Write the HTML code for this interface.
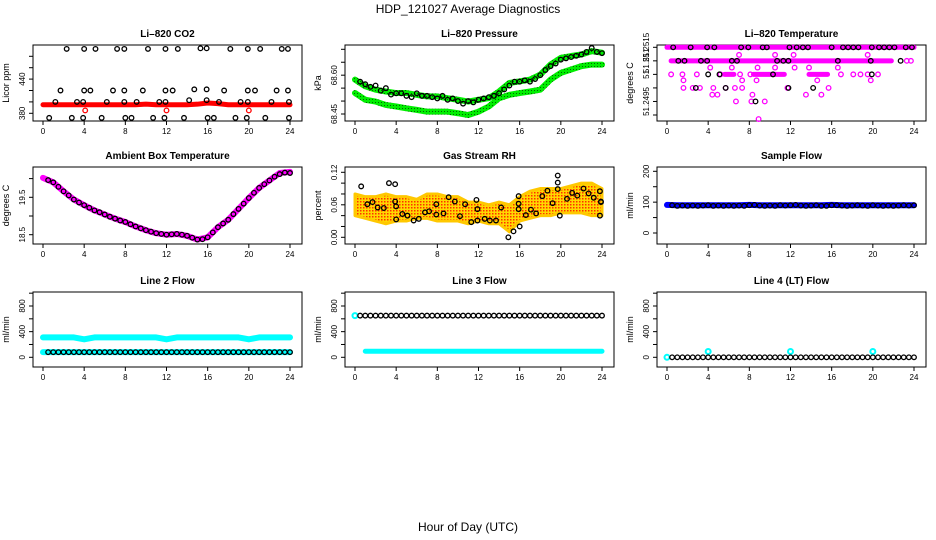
<!DOCTYPE html>
<html><head><meta charset="utf-8"><style>
body{margin:0;background:#fff}
svg{display:block;font-family:"Liberation Sans",sans-serif}
</style></head><body>
<svg id="chart" width="936" height="540" viewBox="0 0 936 540">
<defs><pattern id="rhpat" width="3" height="3" patternUnits="userSpaceOnUse"><rect width="3" height="3" fill="#ffd700"/><rect width="1.5" height="1.5" fill="#ff3000"/></pattern>
<pattern id="grpat" width="3" height="3" patternUnits="userSpaceOnUse"><rect width="3" height="3" fill="#00ee00"/><rect width="1" height="1" fill="#006600"/></pattern></defs>
<text x="468" y="13" text-anchor="middle" font-size="12">HDP_121027  Average Diagnostics</text>
<text x="468" y="531" text-anchor="middle" font-size="12">Hour of Day (UTC)</text>
</svg>
<script>
// ---------- data ----------
const xTicks=[0,4,8,12,16,20,24];
const halfHours=[0.5,1,1.5,2,2.5,3,3.5,4,4.5,5,5.5,6,6.5,7,7.5,8,8.5,9,9.5,10,10.5,11,11.5,12,12.5,13,13.5,14,14.5,15,15.5,16,16.5,17,17.5,18,18.5,19,19.5,20,20.5,21,21.5,22,22.5,23,23.5,24];
const hours=[0,1,2,3,4,5,6,7,8,9,10,11,12,13,14,15,16,17,18,19,20,21,22,23,24];
// CO2
const co2Band=[395,395,395,395,395,395,395,395,395,395,396,395,395,395,395,396,398,397,395,395,395,395,395,395,395];
const co2RedH=[4.1,12.0,20.0];
const co2RedV=[385,385,385];
const co2BlackH=[2.3,4.0,5.1,7.2,7.9,10.2,11.9,13.1,15.3,15.9,18.2,19.9,21.1,23.2,23.8,1.7,4.0,4.6,6.8,7.9,9.7,11.9,12.6,14.7,15.9,17.6,19.9,20.6,22.7,23.8,1.2,3.3,3.9,6.2,7.9,9.1,11.3,11.9,14.2,15.9,17.1,19.2,19.9,22.2,23.9,0.6,2.8,3.9,5.7,8.0,8.6,10.7,11.8,13.7,16.0,16.6,18.7,19.8,21.6,23.9];
const co2BlackV=[493,493,493,493,493,493,493,493,494,494,493,493,493,493,493,420,420,420,420,420,420,420,420,422,422,420,420,420,420,420,400,400,400,400,400,400,400,400,403,403,400,400,400,400,400,372,372,372,372,372,372,372,372,372,372,372,372,372,372,372];
// Pressure
const presUpper=[68.583,68.557,68.544,68.537,68.531,68.531,68.524,68.518,68.518,68.511,68.505,68.498,68.505,68.511,68.537,68.570,68.576,68.583,68.602,68.641,68.667,68.674,68.680,68.693,68.687];
const presLower=[68.531,68.505,68.498,68.485,68.479,68.472,68.466,68.459,68.459,68.459,68.453,68.446,68.459,68.479,68.511,68.524,68.531,68.537,68.544,68.583,68.609,68.622,68.635,68.641,68.641];
const presBlack=[68.575,68.565,68.555,68.56,68.54,68.55,68.525,68.53,68.53,68.52,68.515,68.53,68.52,68.52,68.515,68.51,68.52,68.505,68.51,68.50,68.49,68.50,68.495,68.505,68.51,68.515,68.52,68.53,68.545,68.56,68.575,68.575,68.58,68.575,68.585,68.60,68.62,68.635,68.645,68.66,68.665,68.67,68.675,68.68,68.69,68.705,68.69,68.685];
// Li-820 temperature
const tempSegStart=[0,0.4,5.6,8.4,13.8];
const tempSegEnd=[24,21.8,6.5,11.4,15.6];
const tempSegV=[51.2515,51.251,51.2505,51.2505,51.2505];
const tempPinkH=[23.3,23.7,0.4,1.5,2.9,5.2,7.1,8.1,16.9,18.1,18.8,19.5,20.5,4.2,6.3,8.8,10.5,12.4,13.8,16.6,7.0,10.5,12.3,19.5,1.6,2.5,3.2,4.5,5.7,6.6,7.3,11.7,15.7,1.6,7.3,8.7,14.6,19.8,4.4,4.9,8.3,13.5,15.0,6.7,8.2,9.5,8.9];
const tempPinkV=[51.251,51.251,51.2505,51.2505,51.2505,51.2505,51.2505,51.2505,51.2505,51.2505,51.2505,51.2505,51.2505,51.25075,51.25075,51.25075,51.25075,51.25075,51.25075,51.25075,51.25122,51.25122,51.25122,51.25122,51.25,51.25,51.25,51.25,51.25,51.25,51.25,51.25,51.25,51.25028,51.25028,51.25028,51.25028,51.25028,51.24975,51.24975,51.24975,51.24975,51.24975,51.2495,51.2495,51.2495,51.24885];
const tempBlackH=[0.6,2.3,3.9,4.6,7.2,7.9,9.3,9.7,11.9,12.6,13.2,13.7,16.0,17.1,17.6,18.1,18.6,19.9,20.6,21.1,21.6,22.1,23.2,23.8,1.1,1.7,3.3,3.9,6.3,6.8,10.7,11.3,11.8,16.6,19.8,22.7,4.0,5.1,10.3,19.9,2.8,5.7,11.8,14.2,8.6];
const tempBlackV=[51.2515,51.2515,51.2515,51.2515,51.2515,51.2515,51.2515,51.2515,51.2515,51.2515,51.2515,51.2515,51.2515,51.2515,51.2515,51.2515,51.2515,51.2515,51.2515,51.2515,51.2515,51.2515,51.2515,51.2515,51.251,51.251,51.251,51.251,51.251,51.251,51.251,51.251,51.251,51.251,51.251,51.251,51.2505,51.2505,51.2505,51.2505,51.25,51.25,51.25,51.25,51.2495];
// Ambient
const ambBand=[20.02,19.90,19.66,19.44,19.29,19.15,19.04,18.93,18.84,18.72,18.62,18.54,18.50,18.52,18.47,18.37,18.43,18.70,18.90,19.19,19.48,19.75,19.95,20.15,20.18];
const ambBlack=[19.96,19.90,19.78,19.66,19.55,19.44,19.36,19.29,19.22,19.15,19.10,19.04,18.98,18.93,18.88,18.84,18.78,18.72,18.67,18.62,18.58,18.54,18.52,18.50,18.51,18.52,18.50,18.47,18.42,18.37,18.38,18.43,18.56,18.70,18.80,18.90,19.05,19.19,19.33,19.48,19.62,19.75,19.85,19.95,20.05,20.12,20.16,20.15];
// RH
const rhUpper=[0.08,0.075,0.075,0.08,0.075,0.075,0.07,0.08,0.08,0.075,0.075,0.065,0.065,0.06,0.065,0.06,0.075,0.085,0.09,0.09,0.09,0.095,0.1,0.1,0.09];
const rhLower=[0.04,0.035,0.03,0.025,0.03,0.03,0.035,0.035,0.03,0.03,0.03,0.025,0.03,0.025,0.025,0.01,0.03,0.035,0.04,0.04,0.045,0.045,0.045,0.04,0.04];
const rhBlackH=[0.6,1.2,1.7,2.2,2.8,3.3,3.9,3.9,4.0,4.0,4.6,5.1,5.7,6.2,6.8,7.2,7.9,7.9,8.6,9.1,9.7,10.2,10.7,11.3,11.8,11.9,11.9,12.6,13.1,13.7,14.2,14.9,15.4,15.9,15.9,15.9,16.0,16.6,17.1,17.6,18.2,18.7,19.2,19.7,19.7,19.7,19.9,20.6,21.1,21.6,22.2,22.7,23.2,23.8,23.8,23.9,23.9];
const rhBlackV=[0.094,0.061,0.065,0.055,0.054,0.10,0.098,0.066,0.057,0.033,0.043,0.04,0.031,0.034,0.046,0.048,0.061,0.042,0.044,0.074,0.066,0.039,0.061,0.028,0.069,0.052,0.031,0.034,0.031,0.031,0.055,0.0,0.011,0.076,0.062,0.052,0.02,0.041,0.051,0.044,0.076,0.086,0.063,0.114,0.101,0.089,0.04,0.071,0.082,0.077,0.09,0.081,0.073,0.085,0.04,0.066,0.065];
// Flows
const sampBand=[91,90,90,90,90,90,90,90,91,90,90,90,90,90,90,90,91,90,90,90,90,90,90,90,90];
const sampBlack=[90,88,89,88,89,88,89,90,88,89,88,89,88,89,88,90,91,89,88,89,88,90,89,90,91,89,88,89,90,88,88,90,90,89,88,89,90,89,88,90,89,88,89,88,89,90,89,90];
const l2CyanHigh=[310,310,310,310,280,310,310,310,310,310,310,310,280,310,310,310,310,310,310,310,280,310,310,310,310];
const l2CyanLow=[80,80,80,80,80,80,80,80,80,80,80,80,80,80,80,80,80,80,80,80,80,80,80,80,80];
const l2Black=[80,80,80,80,80,80,80,80,80,80,80,80,80,80,80,80,80,80,80,80,80,80,80,80,80,80,80,80,80,80,80,80,80,80,80,80,80,80,80,80,80,80,80,80,80,80,80,80];
const l3Black=[650,650,650,650,650,650,650,650,650,650,650,650,650,650,650,650,650,650,650,650,650,650,650,650,650,650,650,650,650,650,650,650,650,650,650,650,650,650,650,650,650,650,650,650,650,650,650,650];
const l3Cyan=[650,95,95,95,95,95,95,95,95,95,95,95,95,95,95,95,95,95,95,95,95,95,95,95,95];
const l4Black=[0,0,0,0,0,0,0,0,0,0,0,0,0,0,0,0,0,0,0,0,0,0,0,0,0,0,0,0,0,0,0,0,0,0,0,0,0,0,0,0,0,0,0,0,0,0,0,0];
const l4CyanH=[0,4,12,20];
const l4CyanV=[0,90,90,90];

// ---------- drawing ----------
const svg=document.getElementById('chart');
const NS='http://www.w3.org/2000/svg';
function mk(tag,attrs,parent){const e=document.createElementNS(NS,tag);for(const k in attrs)e.setAttribute(k,attrs[k]);(parent||svg).appendChild(e);return e;}
function panel(x0,x1,y0,y1,va,ya,vb,yb){return {x0,x1,y0,y1,xs:h=>x0+10+h*(x1-x0-22)/24,ys:v=>ya+(v-va)*(yb-ya)/(vb-va)};}
const P={
 co2:panel(33,302,45,121,380,113.3,480,56.3),
 pres:panel(345,614,45,121,68.45,114,68.70,49.3),
 temp:panel(657,926,45,121,51.2515,47.3,51.249,115),
 amb:panel(33,302,167,244,18.5,234.7,19.5,197.3),
 rh:panel(345,614,167,244,0,237.3,0.12,172.3),
 samp:panel(657,926,167,244,0,233,200,171.3),
 l2:panel(33,302,292,367,0,357.3,800,306),
 l3:panel(345,614,292,367,0,357.3,800,306),
 l4:panel(657,926,292,367,0,357.3,800,306)
};
function axes(p,key,title,ylab,yt,ylabels){
 const g=mk('g',{});
 
 
 const r=mk('rect',{x:p.x0,y:p.y0,width:p.x1-p.x0,height:p.y1-p.y0,fill:'none',stroke:'#000','stroke-width':1},g);
 
 
 const t=mk('text',{x:(p.x0+p.x1)/2,y:p.y0-8,'text-anchor':'middle','font-size':10,'font-weight':'bold'},g);
 t.textContent=title;
 
 
 const yl=mk('text',{x:0,y:0,'text-anchor':'middle','font-size':9,transform:`translate(${p.x0-24},${(p.y0+p.y1)/2}) rotate(-90)`},g);
 yl.textContent=ylab;
 
 
 mk('line',{x1:p.xs(0),x2:p.xs(24),y1:p.y1,y2:p.y1,stroke:'#000'},g);
 xTicks.forEach(h=>{const x=p.xs(h);mk('line',{x1:x,x2:x,y1:p.y1,y2:p.y1+4,stroke:'#000'},g);
  const lb=mk('text',{x:x,y:p.y1+13,'text-anchor':'middle','font-size':8},g);lb.textContent=h;
  
  });
 mk('line',{x1:p.x0,x2:p.x0,y1:p.ys(yt[0]),y2:p.ys(yt[yt.length-1]),stroke:'#000'},g);
 yt.forEach(v=>{const y=p.ys(v);mk('line',{x1:p.x0-4,x2:p.x0,y1:y,y2:y,stroke:'#000'},g);});
 ylabels.forEach(([v,s])=>{const y=p.ys(v);const lb=mk('text',{x:0,y:0,'text-anchor':'middle','font-size':8,transform:`translate(${p.x0-8},${y}) rotate(-90)`},g);lb.textContent=s;
  
  });
 return g;
}
function band(p,g,H,V,color,w,name){
 const pts=H.map((h,i)=>p.xs(h)+','+p.ys(V[i])).join(' ');
 const l=mk('polyline',{points:pts,fill:'none',stroke:color,'stroke-width':w,'stroke-linejoin':'round','stroke-linecap':'round'},g);
 
 
}
function dots(p,g,H,V,color,r,sw,name){
 H.forEach((h,i)=>{const c=mk('circle',{cx:p.xs(h),cy:p.ys(V[i]),r:r,fill:'none',stroke:color,'stroke-width':sw},g);
  
  });
}
let g;
// CO2
g=axes(P.co2,'co2','Li–820 CO2','Licor ppm',[380,400,420,440,460,480],[[380,'380'],[440,'440']]);
band(P.co2,g,hours,co2Band,'#ff0000',5,'co2-band');
dots(P.co2,g,co2RedH,co2RedV,'#ff0000',2.3,1.3,'co2-red-point');
dots(P.co2,g,co2BlackH,co2BlackV,'#000',2.3,1.3,'co2-point');
// Pressure
g=axes(P.pres,'pressure','Li–820 Pressure','kPa',[68.45,68.5,68.55,68.6,68.65,68.7],[[68.45,'68.45'],[68.6,'68.60']]);
band(P.pres,g,hours,presUpper,'url(#grpat)',6,'pressure-upper-band');
band(P.pres,g,hours,presLower,'url(#grpat)',6,'pressure-lower-band');
dots(P.pres,g,halfHours,presBlack,'#000',2.3,1.3,'pressure-point');
// Temperature
g=axes(P.temp,'li820-temp','Li–820 Temperature','degrees C',[51.2515,51.251,51.2505,51.25,51.2495,51.249],[[51.2515,'51.2515'],[51.251,'51.251'],[51.2505,'51'],[51.2495,'51.2495']]);
tempSegStart.forEach((s,i)=>{const l=mk('line',{x1:P.temp.xs(s),x2:P.temp.xs(tempSegEnd[i]),y1:P.temp.ys(tempSegV[i]),y2:P.temp.ys(tempSegV[i]),stroke:'#ff00ff','stroke-width':5,'stroke-linecap':'round'},g);
 
 });
dots(P.temp,g,tempPinkH,tempPinkV,'#ff00ff',2.3,1.3,'temp-pink-point');
dots(P.temp,g,tempBlackH,tempBlackV,'#000',2.3,1.3,'temp-point');
// Ambient
g=axes(P.amb,'ambient','Ambient Box Temperature','degrees C',[18.5,19,19.5,20],[[18.5,'18.5'],[19.5,'19.5']]);
band(P.amb,g,hours,ambBand,'#ff00ff',6,'ambient-band');
dots(P.amb,g,halfHours,ambBlack,'#000',2.3,1.3,'ambient-point');
// RH
g=axes(P.rh,'rh','Gas Stream RH','percent',[0,0.02,0.04,0.06,0.08,0.1,0.12],[[0,'0.00'],[0.06,'0.06'],[0.12,'0.12']]);
{const up=hours.map((h,i)=>P.rh.xs(h)+','+P.rh.ys(rhUpper[i]));const lo=hours.map((h,i)=>P.rh.xs(h)+','+P.rh.ys(rhLower[i])).reverse();
 const pg=mk('polygon',{points:up.concat(lo).join(' '),fill:'url(#rhpat)',stroke:'#ffc800','stroke-width':3,'stroke-linejoin':'round'},g);
 
 }
dots(P.rh,g,rhBlackH,rhBlackV,'#000',2.3,1.3,'rh-point');
// Sample flow
g=axes(P.samp,'sample-flow','Sample Flow','ml/min',[0,50,100,150,200],[[0,'0'],[100,'100'],[200,'200']]);
band(P.samp,g,hours,sampBand,'#0000ff',6,'sample-band');
dots(P.samp,g,halfHours,sampBlack,'#000',2.3,1.3,'sample-point');
// Line 2
const flowTicks=[0,200,400,600,800,1000];const flowLabels=[[0,'0'],[400,'400'],[800,'800']];
g=axes(P.l2,'line2-flow','Line 2 Flow','ml/min',flowTicks,flowLabels);
band(P.l2,g,hours,l2CyanHigh,'#00ffff',6,'line2-upper-band');
band(P.l2,g,hours,l2CyanLow,'#00ffff',6,'line2-lower-band');
dots(P.l2,g,halfHours,l2Black,'#000',2.3,1.3,'line2-point');
// Line 3
g=axes(P.l3,'line3-flow','Line 3 Flow','ml/min',flowTicks,flowLabels);
band(P.l3,g,hours.slice(1),l3Cyan.slice(1),'#00ffff',5,'line3-band');
dots(P.l3,g,[hours[0]],[l3Cyan[0]],'#00ffff',2.5,2,'line3-cyan-point');
dots(P.l3,g,halfHours,l3Black,'#000',2.3,1.3,'line3-point');
// Line 4
g=axes(P.l4,'line4-flow','Line 4 (LT) Flow','ml/min',flowTicks,flowLabels);
dots(P.l4,g,l4CyanH,l4CyanV,'#00ffff',2.5,2,'line4-cyan-point');
dots(P.l4,g,halfHours,l4Black,'#000',2.3,1.3,'line4-point');
</script>
</body></html>
